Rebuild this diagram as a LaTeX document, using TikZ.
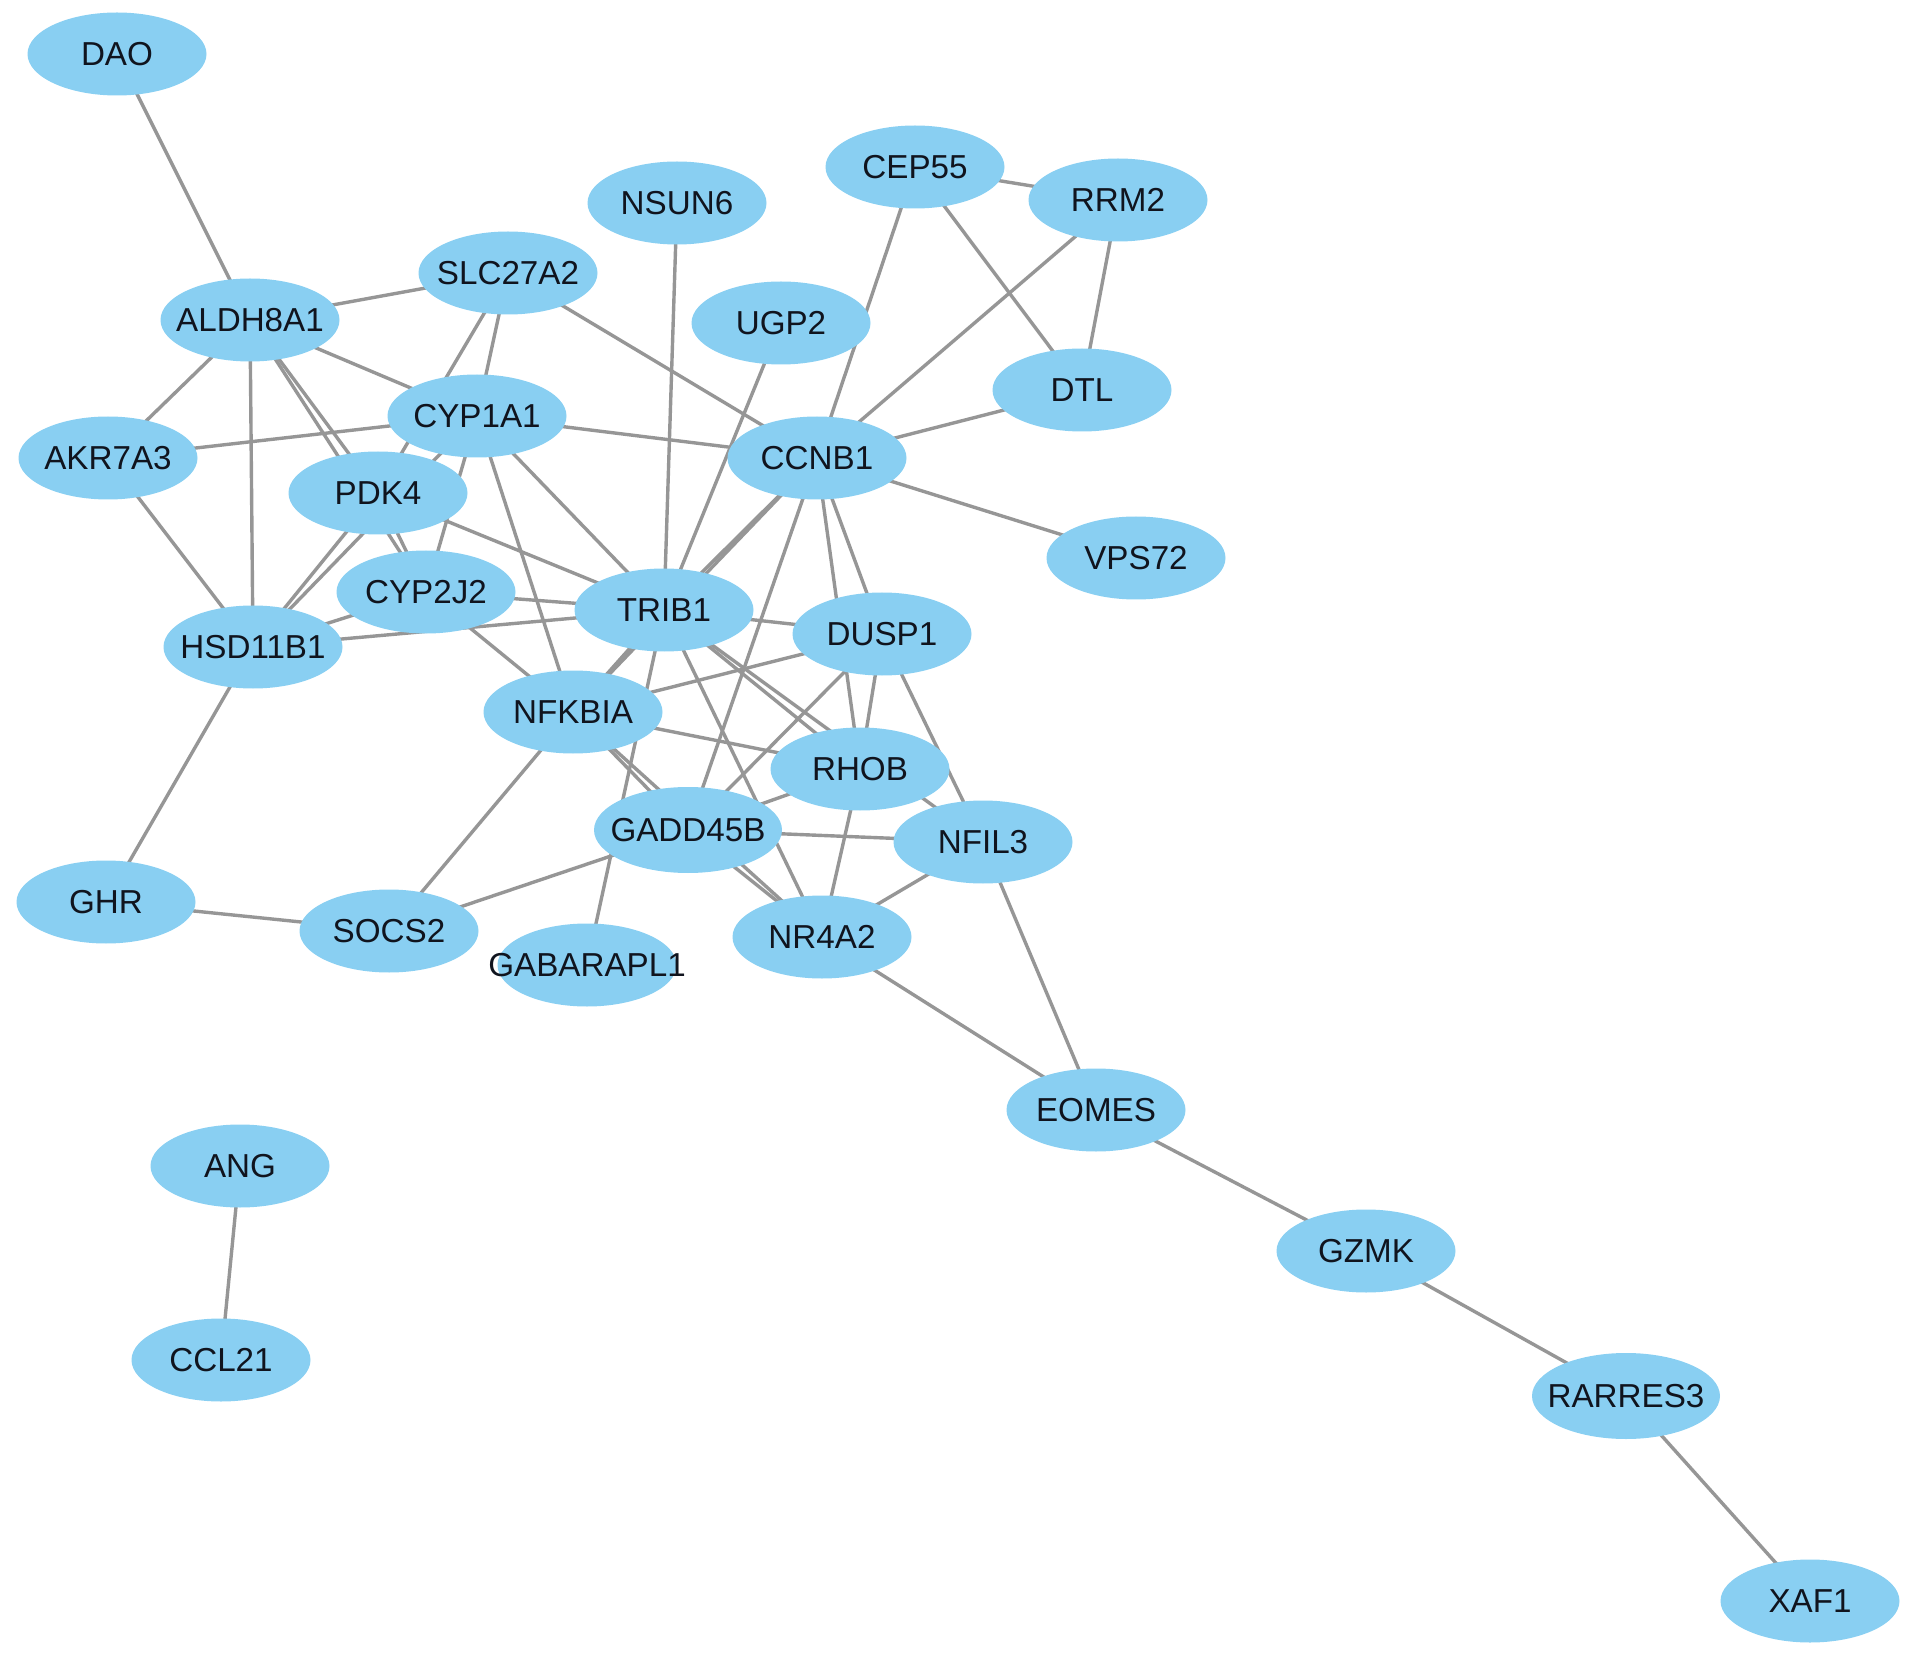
\documentclass[tikz,border=0pt]{standalone}
\usepackage{fontspec}
\setmainfont{Liberation Sans}
\usetikzlibrary{shapes.geometric,backgrounds}
\definecolor{nodeblue}{RGB}{137,207,242}
\definecolor{edgegray}{RGB}{150,150,150}
\definecolor{labelink}{RGB}{16,20,30}
\tikzset{
  gene/.style={ellipse, fill=nodeblue, draw=none, minimum width=89.5pt, minimum height=41.5pt, inner sep=0pt,
    text=labelink, font=\fontsize{16.6}{18}\selectfont},
  widegene/.style={gene, minimum width=94pt, minimum height=43pt},
  link/.style={draw=edgegray, line width=1.7pt}
}
\newcommand{\lbl}[1]{\makebox[0pt]{#1}}
\begin{document}
\begin{tikzpicture}[x=0.5pt,y=-0.5pt]
\useasboundingbox (0,0) rectangle (1913,1658);
\node[gene] (DAO) at (117,54) {\lbl{DAO}};
\node[gene] (CEP55) at (915,167) {\lbl{CEP55}};
\node[gene] (RRM2) at (1118,200) {\lbl{RRM2}};
\node[gene] (NSUN6) at (677,203) {\lbl{NSUN6}};
\node[gene] (SLC27A2) at (508,273) {\lbl{SLC27A2}};
\node[gene] (ALDH8A1) at (250,320) {\lbl{ALDH8A1}};
\node[gene] (UGP2) at (781,323) {\lbl{UGP2}};
\node[gene] (DTL) at (1082,390) {\lbl{DTL}};
\node[gene] (CYP1A1) at (477,416) {\lbl{CYP1A1}};
\node[gene] (AKR7A3) at (108,458) {\lbl{AKR7A3}};
\node[gene] (CCNB1) at (817,458) {\lbl{CCNB1}};
\node[gene] (PDK4) at (378,493) {\lbl{PDK4}};
\node[gene] (VPS72) at (1136,558) {\lbl{VPS72}};
\node[gene] (CYP2J2) at (426,592) {\lbl{CYP2J2}};
\node[gene] (TRIB1) at (664,610) {\lbl{TRIB1}};
\node[gene] (DUSP1) at (882,634) {\lbl{DUSP1}};
\node[gene] (HSD11B1) at (253,647) {\lbl{HSD11B1}};
\node[gene] (NFKBIA) at (573,712) {\lbl{NFKBIA}};
\node[gene] (RHOB) at (860,769) {\lbl{RHOB}};
\node[widegene] (GADD45B) at (688,830) {\lbl{GADD45B}};
\node[gene] (NFIL3) at (983,842) {\lbl{NFIL3}};
\node[gene] (GHR) at (106,902) {\lbl{GHR}};
\node[gene] (SOCS2) at (389,931) {\lbl{SOCS2}};
\node[gene] (GABARAPL1) at (587,965) {\lbl{GABARAPL1}};
\node[gene] (NR4A2) at (822,937) {\lbl{NR4A2}};
\node[gene] (EOMES) at (1096,1110) {\lbl{EOMES}};
\node[gene] (ANG) at (240,1166) {\lbl{ANG}};
\node[gene] (GZMK) at (1366,1251) {\lbl{GZMK}};
\node[gene] (CCL21) at (221,1360) {\lbl{CCL21}};
\node[widegene] (RARRES3) at (1626,1396) {\lbl{RARRES3}};
\node[gene] (XAF1) at (1810,1601) {\lbl{XAF1}};
\begin{pgfonlayer}{background}
\foreach \a/\b in {DAO/ALDH8A1, ALDH8A1/SLC27A2, ALDH8A1/CYP1A1, ALDH8A1/AKR7A3, ALDH8A1/HSD11B1,
  ALDH8A1/PDK4, ALDH8A1/CYP2J2, SLC27A2/CYP1A1, SLC27A2/PDK4, SLC27A2/CCNB1,
  CYP1A1/AKR7A3, CYP1A1/CCNB1, CYP1A1/CYP2J2, CYP1A1/HSD11B1, CYP1A1/TRIB1, CYP1A1/NFKBIA,
  AKR7A3/HSD11B1, PDK4/HSD11B1, PDK4/CYP2J2, PDK4/TRIB1, CYP2J2/HSD11B1, CYP2J2/TRIB1,
  CYP2J2/NFKBIA, HSD11B1/TRIB1, HSD11B1/GHR, GHR/SOCS2, SOCS2/NFKBIA, SOCS2/GADD45B,
  GABARAPL1/TRIB1, NSUN6/TRIB1, UGP2/TRIB1, CEP55/RRM2, CEP55/DTL, CEP55/CCNB1, RRM2/DTL,
  RRM2/CCNB1, DTL/CCNB1, CCNB1/VPS72, CCNB1/TRIB1, CCNB1/NFKBIA, CCNB1/GADD45B, CCNB1/DUSP1,
  CCNB1/RHOB, TRIB1/DUSP1, TRIB1/NFKBIA, TRIB1/RHOB, TRIB1/NFIL3, TRIB1/NR4A2,
  DUSP1/NFKBIA, DUSP1/GADD45B, DUSP1/RHOB, DUSP1/NFIL3, NFKBIA/RHOB,
  NFKBIA/GADD45B, NFKBIA/NR4A2, GADD45B/RHOB, GADD45B/NFIL3, GADD45B/NR4A2, RHOB/NR4A2,
  NFIL3/NR4A2, NFIL3/EOMES, NR4A2/EOMES, EOMES/GZMK, GZMK/RARRES3, RARRES3/XAF1, ANG/CCL21}
  \draw[link] (\a.center) -- (\b.center);
\end{pgfonlayer}
\end{tikzpicture}
\end{document}
